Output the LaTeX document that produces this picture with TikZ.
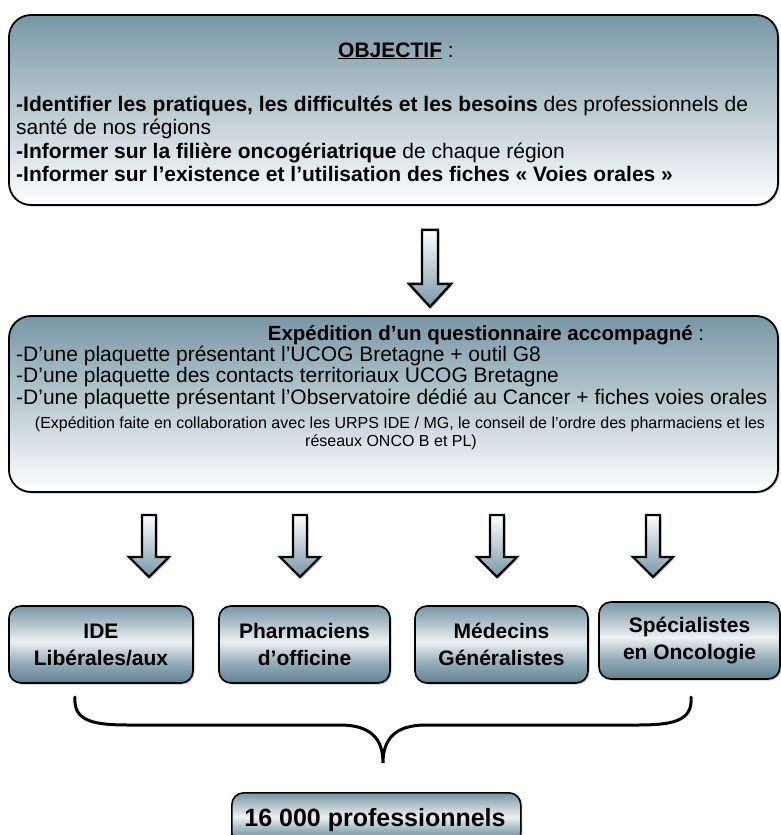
\documentclass[tikz,border=0pt]{standalone}
\usepackage{fontspec}
\setmainfont{Liberation Sans}
\usetikzlibrary{calc,shadows}
\definecolor{steel}{RGB}{120,151,166}
\definecolor{steeldk}{RGB}{96,128,144}
\definecolor{pale}{RGB}{236,241,243}
\pgfdeclareverticalshading{smallshade}{100bp}{color(0bp)=(steeldk); color(25bp)=(steeldk); color(38bp)=(steel!80!white); color(52bp)=(pale); color(64bp)=(steel!60!white); color(75bp)=(steel); color(100bp)=(steel)}
\begin{document}
\begin{tikzpicture}[x=1pt,y=-1pt,
  softshadow/.style={drop shadow={opacity=0.45, shadow xshift=1.5pt, shadow yshift=-1.5pt}},
  bigbox/.style={draw=black, line width=1.8pt, rounded corners=22pt, top color=steel, bottom color=white, minimum width=769pt, inner sep=0pt, softshadow},
  smallbox/.style={draw=black, line width=1.6pt, rounded corners=12pt, shading=smallshade, font=\fontsize{21}{27}\selectfont\bfseries, align=center, inner sep=0pt, minimum height=77pt, softshadow},
  blockarrow/.style={draw=black, line width=2.4pt, line join=miter, top color=white, bottom color=steel, softshadow},
  bracestyle/.style={line width=3pt, line cap=round},
  maintext/.style={font=\fontsize{21}{24}\selectfont, inner sep=0pt, anchor=base west},
  smalltext/.style={font=\fontsize{16}{18}\selectfont, inner sep=0pt, anchor=base},
]
\clip (0,0) rectangle (781,835);
% top box
\node[bigbox, minimum height=190pt] (obj) at (393.5,110) {};
\node[font=\fontsize{21}{24}\selectfont, inner sep=0pt, anchor=base] (objtitle) at (396,57) {\underline{\textbf{OBJECTIF}} :};
\node[maintext] (o1) at (16,111) {\textbf{-Identifier les pratiques, les difficultés et les besoins} des professionnels de};
\node[maintext] (o2) at (16,134) {santé de nos régions};
\node[maintext] (o3) at (16,158) {\textbf{-Informer sur la filière oncogériatrique} de chaque région};
\node[maintext] (o4) at (16,181) {\textbf{-Informer sur l’existence et l’utilisation des fiches « Voies orales »}};
% second box
\node[bigbox, minimum height=176pt] (exp) at (393.5,404) {};
\node[font=\fontsize{20.5}{24}\selectfont, inner sep=0pt, anchor=base] (exptitle) at (486,340) {\textbf{Expédition d’un questionnaire accompagné} :};
\node[maintext] (e1) at (16,361) {-D’une plaquette présentant l’UCOG Bretagne + outil G8};
\node[maintext] (e2) at (16,382) {-D’une plaquette des contacts territoriaux UCOG Bretagne};
\node[maintext] (e3) at (16,404) {-D’une plaquette présentant l’Observatoire dédié au Cancer + fiches voies orales};
\node[smalltext] (e4) at (400,428) {(Expédition faite en collaboration avec les URPS IDE / MG, le conseil de l’ordre des pharmaciens et les};
\node[smalltext] (e5) at (391,446) {réseaux ONCO B et PL)};
% arrow 1
\coordinate (a0) at ($(obj.south)+(36.5,24)$);
\path[blockarrow] ($(a0)+(-8,0)$) -- ($(a0)+(8,0)$) -- ($(a0)+(8,54)$) -- ($(a0)+(21,54)$) -- ($(a0)+(0,77)$) -- ($(a0)+(-21,54)$) -- ($(a0)+(-8,54)$) -- cycle;
% small boxes
\node[smallbox, minimum width=184pt] (ide) at (101,644.5) {IDE\\Libérales/aux};
\node[smallbox, minimum width=171pt] (pha) at (304.5,644.5) {Pharmaciens\\d’officine};
\node[smallbox, minimum width=173pt] (med) at (501.5,644.5) {Médecins\\Généralistes};
\node[smallbox, minimum width=181pt] (spe) at (689.5,640.5) {Spécialistes\\en Oncologie};
% small arrows
\foreach \n/\xx in {1/149,2/300,3/497,4/653}{
  \coordinate (s\n) at (\xx,515);
  \path[blockarrow] ($(s\n)+(-7,0)$) -- ($(s\n)+(7,0)$) -- ($(s\n)+(7,42)$) -- ($(s\n)+(20,42)$) -- ($(s\n)+(0,62)$) -- ($(s\n)+(-20,42)$) -- ($(s\n)+(-7,42)$) -- cycle;
}
% brace
\coordinate (bl) at (75,697);
\coordinate (br) at (691,697);
\coordinate (bt) at (383,763);
\draw[bracestyle] (bl) .. controls (73,722) and (95,725) .. (130,725) -- (340,725) .. controls (372,725) and (383,740) .. (bt)
  .. controls (383,740) and (394,725) .. (426,725) -- (636,725) .. controls (671,725) and (693,722) .. (br);
% total
\node[smallbox, minimum width=289pt, minimum height=52pt, anchor=north west] (tot) at (231,792) {};
\node[font=\fontsize{25}{28}\selectfont\bfseries, inner sep=0pt, anchor=base] (tottext) at (375,826) {16 000 professionnels};
\end{tikzpicture}
\end{document}
